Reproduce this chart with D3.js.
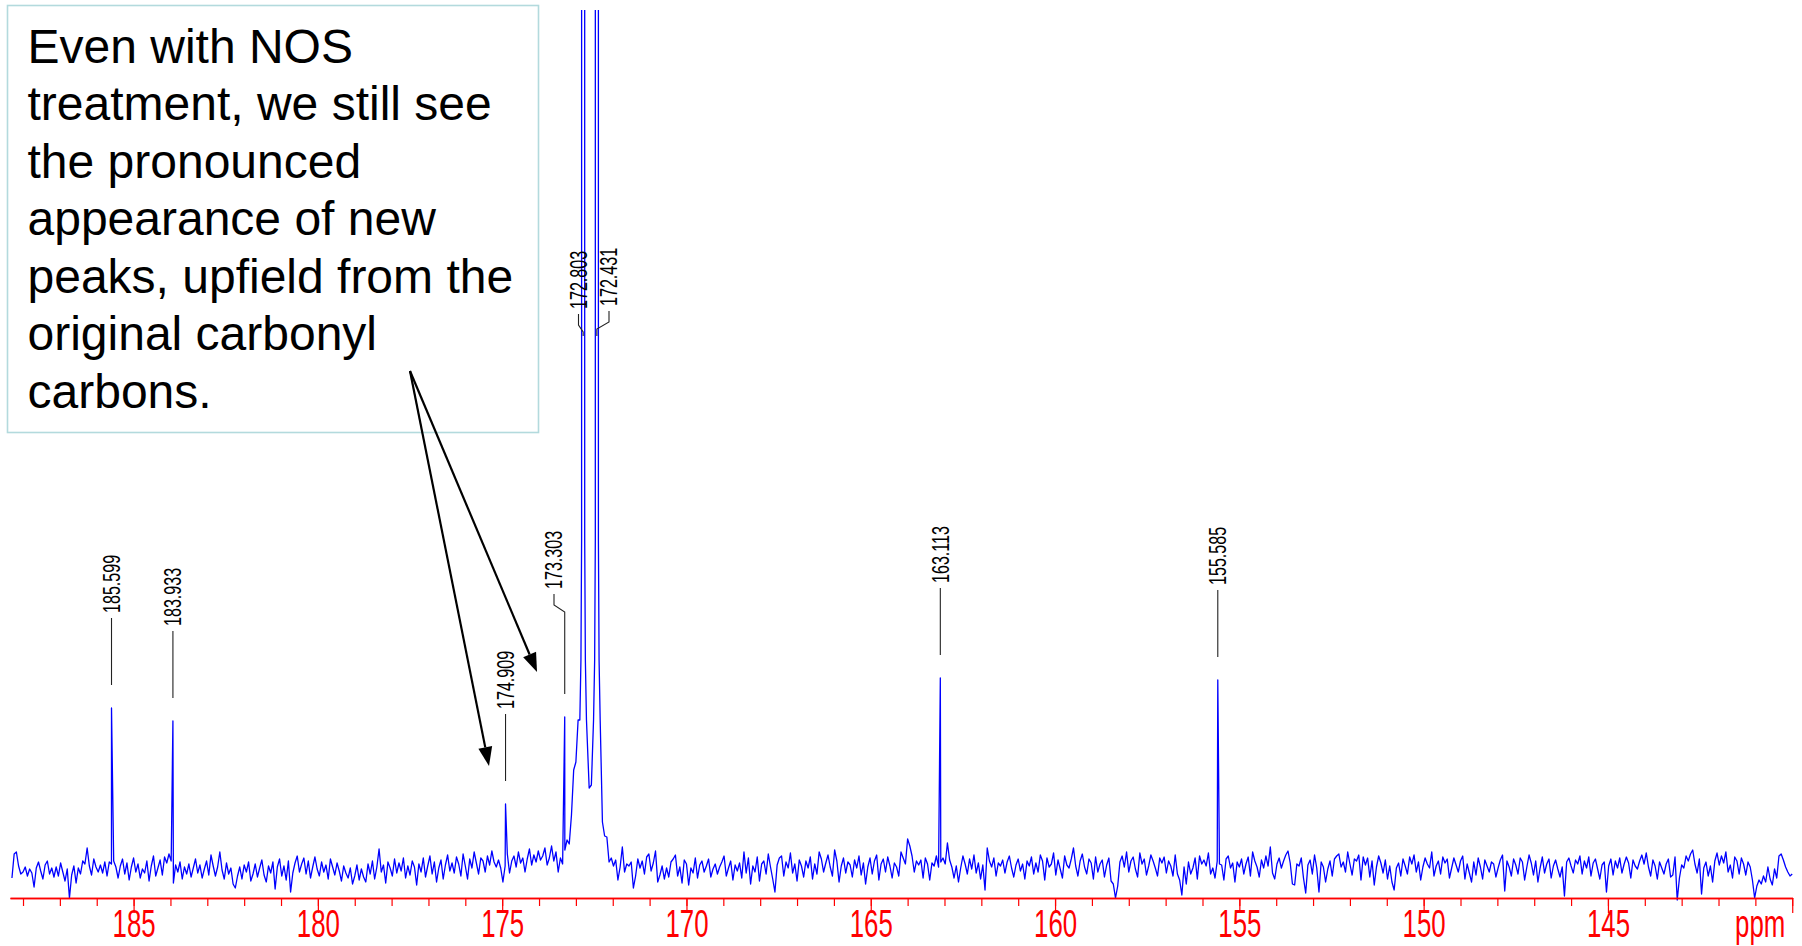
<!DOCTYPE html>
<html>
<head>
<meta charset="utf-8">
<script src="https://cdn.jsdelivr.net/npm/d3@7/dist/d3.min.js"></script>
<style>
  html, body { margin: 0; padding: 0; background: #fff; }
  svg { display: block; }
</style>
</head>
<body>
<svg id="chart" width="1802" height="946"></svg>
<script>
// 13C NMR spectrum, carbonyl region after NOS treatment

// Picked peaks: chemical shift (ppm) and intensity (arbitrary units)
const peakPpm    = [185.599, 183.933, 174.909, 173.303, 172.803, 172.431, 163.113, 155.585];
const peakHeight = [162, 149, 66, 153, 9000, 9000, 192, 190];

// Line shape of the two strong (off-scale) carbonyl resonances:
// offset from the peak centre (ppm) and intensity
const strongOffset = [0.09, 0.06, 0.042, 0.036, -0.036, -0.042, -0.06, -0.09];
const strongValue  = [150, 210, 330, 9000, 9000, 330, 210, 150];

// Baseline trace, sampled every 0.06 ppm from 188.30 ppm downfield to upfield.
// null = sample lies inside one of the strong resonances above.
const baselineStart = 188.30;
const baselineStep  = 0.06;
const baseline = [
  -8, 16, 18, 4, -4, -2, 3, -6, 1, -3, -17, 2, 8, -1, -9, 5, 9, -4, 2, -7,
  3, -6, 7, -2, -11, 1, -28, -5, 4, -13, 2, -4, 9, 6, 22, 4, -5, 11, 3, -2,
  5, -3, 8, -6, 8, 6, 9, 3, -8, 4, 11, -4, 7, -10, 3, 12, -2, 6, -8, 1,
  -3, 9, -11, 4, 14, -6, 2, 10, -5, 13, 7, 16, 9, -13, 5, -2, 8, -9, 3, -4,
  6, -7, 2, 11, -3, 5, -8, 1, 9, -5, 15, 4, -6, 3, 18, 0, -9, 7, -4, 2,
  -14, -18, -6, 3, -9, 5, -2, 8, -11, -4, 6, -7, 2, 10, -5, -12, 4, -3, 8, -19,
  3, 11, -6, 4, -10, 9, -22, -3, 7, 14, -2, 6, 12, -4, 9, -8, 3, 13, 1, -6,
  8, -2, 5, -9, 11, 3, -5, 7, -1, -11, 4, -3, -8, 2, -14, -6, 5, -10, 1, -7,
  -12, 6, -4, 9, -9, 3, 21, -2, 5, -13, 8, 2, -6, 11, -3, 7, -1, 12, -8, 4,
  -5, 9, 3, -15, 6, -2, 12, -7, 4, 14, -4, 8, -12, 2, 10, -9, 5, 15, -1, 7,
  -3, 13, 6, -6, 16, 4, -9, 11, 2, 18, 7, -4, 12, 9, -2, 14, 5, 19, 8, 3,
  10, 2, -12, 4, 16, -3, 9, 14, 3, 18, 7, 12, -2, 11, 21, 5, 15, 8, 19, 10,
  14, 22, 5, 12, 24, 9, 18, -2, 12, 6, 20, 30, 26, 55, 100, 108, 150, null, null, null,
  null, 82, 85, null, null, null, null, 48, 34, 33, 8, 12, 4, 10, -10, 3, 23, -2, 6, 4,
  8, -18, -6, 11, 2, 9, -4, 13, 16, -1, 7, 19, -12, -5, 4, -9, 2, -7, 8, 11,
  15, -6, 3, -13, 10, 6, -15, 2, -3, 12, -8, 5, 9, -2, 4, 11, -7, 1, 6, -4,
  3, 8, 14, -6, 2, 9, -10, 5, -1, 7, -8, 18, -3, 12, -14, 4, -2, 13, -11, 6,
  9, -4, 16, 3, -9, -22, 5, 12, 14, -6, 8, 2, 17, -3, 6, -11, 10, 4, -7, 9,
  2, 13, -9, 6, -4, 18, 11, -2, 7, 15, 3, -6, 20, 9, -12, 4, 12, -3, 8, 5,
  -7, 10, 2, 14, -5, 7, -14, 3, 12, -4, 9, 15, -10, 6, 11, -2, 13, 4, -8, 7,
  3, -6, 18, 12, 6, 31, 24, 14, -2, 9, 5, 10, -8, 12, 6, -10, 7, 4, 14, 3,
  8, 12, 6, 27, 10, 3, -8, 4, -12, 2, 14, 6, -4, 11, 1, 15, -3, 7, -9, 5,
  -20, 22, 9, 3, 12, -6, 7, 4, 10, -3, 8, 14, 2, -7, 5, 11, -1, 6, -9, 9,
  4, 13, -4, 7, -2, 15, 9, -10, 12, 3, 6, 17, -5, 10, 1, -8, 14, 5, 2, 11,
  22, 4, -6, 9, 16, 3, -4, 11, 7, -9, 13, -2, 6, 10, -7, 5, 12, -11, -14, -28,
  -16, 8, 14, 3, 18, -2, 9, 13, 1, -7, 17, 6, 11, -5, 4, 15, 9, 2, -6, 12,
  7, 13, -3, 9, 4, -6, 15, -4, -10, -25, 3, -14, 8, -4, 2, 12, -9, 14, 6, 10,
  4, 17, -4, 2, -8, 9, 6, 5, -10, 11, 14, 2, 7, -12, 8, 3, 11, -4, 6, 13,
  -6, 18, 9, 3, -7, 10, 2, 14, 4, 23, -3, -9, 6, 12, 2, 9, 15, 19, 7, -14,
  -15, 6, 4, 12, -8, -23, 5, 10, -4, 15, 2, -22, 8, 3, -12, 1, 9, -6, 11, 14,
  16, 3, 8, -2, 18, 6, -5, 11, 9, 15, -10, 13, 5, 12, -7, 9, -15, 3, 14, 7,
  -3, 10, -9, 4, -12, -20, 2, 7, -6, 11, 4, -4, 13, 6, 15, -2, 8, -10, 3, 12,
  6, 2, 18, -6, 4, 9, -4, 13, 7, 11, -8, 2, 12, 5, -2, 9, 14, -9, 6, -3,
  -12, 8, -5, 12, 3, -9, 10, 4, -2, 8, 6, -7, 2, 10, 15, -21, 9, 3, -6, 11,
  5, -4, 12, 8, -10, 3, 15, 7, -5, 9, -12, 2, 13, -3, 6, 11, -8, 4, 10, 1,
  -7, 3, -26, 8, 12, 4, -3, 10, 6, 14, -4, 9, 2, 13, -6, 7, 11, 1, -9, 5,
  8, -22, 4, 11, -5, 9, 2, 12, -3, 6, 13, 7, -8, 10, 4, 1, 9, 15, 6, 17,
  3, -6, 10, 4, -9, 8, 2, -4, 6, 11, -7, -5, 13, -30, -8, 5, 2, 14, 9, 16,
  20, 6, -3, 11, -24, 2, 8, -6, 4, -12, 9, 17, 5, 14, 7, 18, -2, 5, -8, 13,
  9, -4, 12, 6, -5, 8, 3, -10, -28, -16, -10, -14, -6, -12, 3, -9, -15, 1, -8, 14,
  16, 10, 3, -2, -6, -4
];

// Axis
const tickLabels = [185, 180, 175, 170, 165, 160, 155, 150, 145];
const axisUnit = "ppm";

// Annotation
const noteLines = [
  "Even with NOS",
  "treatment, we still see",
  "the pronounced",
  "appearance of new",
  "peaks, upfield from the",
  "original carbonyl",
  "carbons."
];

// ---------------------------------------------------------------- layout
const svg = d3.select("#chart");
const W = 1802, H = 946;
const axisY = 898;
const plotTop = 10;
const FONT = "'Liberation Sans', Arial, sans-serif";

const x = d3.scaleLinear().domain([188.353, 139.99]).range([10, 1792.6]);
const y = d3.scaleLinear().domain([0, 860]).range([870, plotTop]);
const yMax = y.domain()[1];

svg.append("rect").attr("width", W).attr("height", H).attr("fill", "#fff");

svg.append("defs").append("clipPath").attr("id", "plotClip")
  .append("rect").attr("x", 0).attr("y", plotTop).attr("width", W).attr("height", H - plotTop);

// ---------------------------------------------------------------- spectrum
const pts = [];
baseline.forEach((v, i) => {
  if (v !== null) pts.push([baselineStart - i * baselineStep, v]);
});
peakPpm.forEach((p, i) => {
  const h = peakHeight[i];
  if (h > yMax) {
    strongOffset.forEach((o, k) => pts.push([p + o, strongValue[k]]));
  } else {
    pts.push([p, h]);
  }
});
pts.sort((a, b) => b[0] - a[0]);

const line = d3.line().x(d => x(d[0])).y(d => y(d[1]));

svg.append("path")
  .attr("clip-path", "url(#plotClip)")
  .attr("d", line(pts))
  .attr("fill", "none")
  .attr("stroke", "#0000ff")
  .attr("stroke-width", 1.3)
  .attr("stroke-linejoin", "round");

// ---------------------------------------------------------------- peak labels
const fmt = d3.format(".3f");
const leaderGap = 23, leaderLen = 67, textGap = 5;
// crowded labels around the strong carbonyl pair are spread out with a bent leader
const spread = {
  "173.303": { lx: 554,   bottom: 589 },
  "172.803": { lx: 578.5, bottom: 309, leaderEnd: 336 },
  "172.431": { lx: 609,   bottom: 306, leaderEnd: 336 }
};

const labels = svg.append("g");
peakPpm.forEach((p, i) => {
  const xp = x(p);
  const txt = fmt(p);
  const s = spread[txt];
  const leaderEnd = (s && s.leaderEnd) ? s.leaderEnd : y(Math.min(peakHeight[i], yMax)) - leaderGap;
  let lx = xp, bottom = leaderEnd - leaderLen - textGap;
  let d;
  if (s) {
    lx = s.lx; bottom = s.bottom;
    const a = bottom + textGap, b = a + 11, c = b + 7;
    d = `M${lx},${a}V${b}L${xp},${c}V${leaderEnd}`;
  } else {
    d = `M${xp},${bottom + textGap}V${leaderEnd}`;
  }
  labels.append("path").attr("d", d)
    .attr("fill", "none").attr("stroke", "#222").attr("stroke-width", 1.1);
  labels.append("text")
    .attr("transform", `translate(${lx},${bottom}) rotate(-90) scale(0.7,1)`)
    .attr("dy", "0.36em")
    .attr("font-family", FONT)
    .attr("font-size", 23)
    .attr("fill", "#000")
    .text(txt);
});

// ---------------------------------------------------------------- axis
const axisG = svg.append("g").attr("transform", `translate(0,${axisY})`);

const minorAxis = d3.axisBottom(x)
  .tickValues(d3.range(140, 189))
  .tickSize(8).tickSizeOuter(0).tickFormat("");
axisG.append("g").call(minorAxis);

const majorAxis = d3.axisBottom(x)
  .tickValues(tickLabels.concat([140]))
  .tickSize(15).tickSizeOuter(0)
  .tickFormat(v => tickLabels.includes(v) ? String(v) : "");
axisG.append("g").call(majorAxis);

axisG.selectAll("path.domain").attr("stroke", "#ff0000").attr("stroke-width", 1.6);
axisG.selectAll(".tick line").attr("stroke", "#ff0000").attr("stroke-width", 1.2);
axisG.selectAll(".tick text")
  .attr("y", 39).attr("dy", 0)
  .attr("transform", "scale(0.68,1)")
  .attr("fill", "#ff0000")
  .attr("font-family", FONT)
  .attr("font-size", 38);

axisG.append("text")
  .attr("transform", `translate(${x(140) - 32},39) scale(0.68,1)`)
  .attr("text-anchor", "middle")
  .attr("fill", "#ff0000")
  .attr("font-family", FONT)
  .attr("font-size", 38)
  .text(axisUnit);

// ---------------------------------------------------------------- annotation
svg.append("rect")
  .attr("x", 7.5).attr("y", 5.5).attr("width", 531).attr("height", 427)
  .attr("fill", "#fff").attr("stroke", "#b3dadd").attr("stroke-width", 1.6);

svg.append("text")
  .attr("font-family", FONT)
  .attr("font-size", 48)
  .attr("fill", "#000")
  .selectAll("tspan").data(noteLines).join("tspan")
  .attr("x", 27.5)
  .attr("y", (d, i) => 62.5 + i * 57.5)
  .text(d => d);

// arrows from the note to the new upfield peaks
const arrowFrom = [410, 371];
const arrowTo = [[489, 766], [537, 672]];
const arrows = svg.append("g");
arrowTo.forEach(t => {
  const dx = t[0] - arrowFrom[0], dy = t[1] - arrowFrom[1];
  const len = Math.hypot(dx, dy), ux = dx / len, uy = dy / len;
  const headL = 19, headW = 7;
  const bx = t[0] - ux * headL, by = t[1] - uy * headL;
  arrows.append("line")
    .attr("x1", arrowFrom[0]).attr("y1", arrowFrom[1])
    .attr("x2", bx).attr("y2", by)
    .attr("stroke", "#000").attr("stroke-width", 2.2);
  arrows.append("path")
    .attr("d", `M${t[0]},${t[1]}L${bx - uy * headW},${by + ux * headW}L${bx + uy * headW},${by - ux * headW}Z`)
    .attr("fill", "#000");
});
</script>
</body>
</html>
